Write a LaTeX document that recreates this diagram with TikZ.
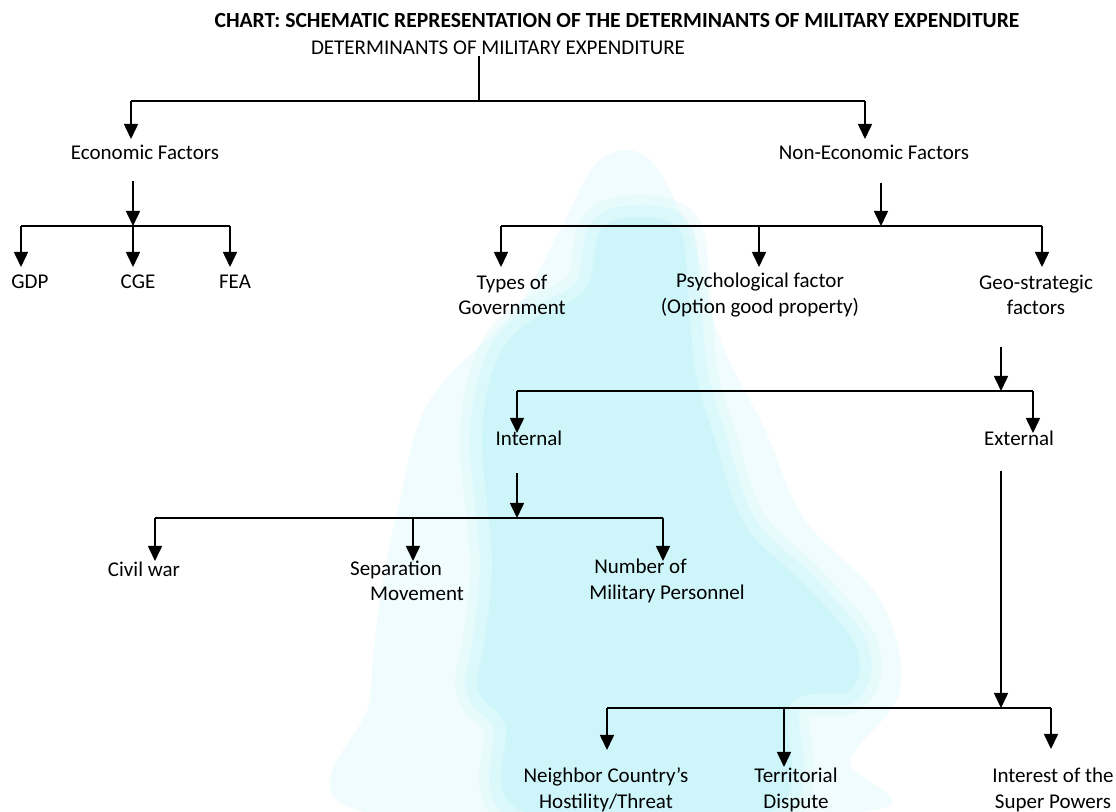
\documentclass[tikz,border=0pt]{standalone}
\usepackage{fontspec}
\setmainfont{Carlito}
\usetikzlibrary{arrows.meta}
\definecolor{wmA}{RGB}{240,252,253}
\definecolor{wmB}{RGB}{206,246,250}
\begin{document}
\begin{tikzpicture}[x=0.5pt,y=-0.5pt,
  lbl/.style={inner sep=0pt, font=\fontsize{10.5pt}{12.8pt}\selectfont, align=center},
  ln/.style={line width=0.8pt},
  arr/.style={line width=0.8pt,-{Triangle[width=7pt,length=7.5pt]}},
  wmsoft/.style={draw=wmB, line join=round}]
\useasboundingbox (0,0) rectangle (1116,812);
\fill[white] (0,0) rectangle (1116,812);
% faint watermark
\fill[wmA] plot[smooth cycle, tension=0.6] coordinates {(600,160) (650,160) (695,250) (720,340) (765,430) (805,520) (880,600) (900,690) (850,760) (860,812) (365,812) (370,700) (380,600) (400,500) (430,400) (515,310) (560,230)};
\def\wmshape{plot[smooth cycle, tension=0.6] coordinates {(605,225) (675,225) (688,290) (695,370) (715,440) (745,525) (805,585) (855,645) (850,690) (790,705) (770,812) (525,812) (505,725) (478,690) (485,640) (492,560) (482,440) (495,365) (525,325) (585,290)}}
\draw[wmsoft, line width=22pt, opacity=0.25] \wmshape;
\draw[wmsoft, line width=12pt, opacity=0.45] \wmshape;
\fill[wmB] \wmshape;
% texts
\node[lbl,font=\fontsize{10.8pt}{13pt}\selectfont\bfseries] (title) at (617,21) {CHART: SCHEMATIC REPRESENTATION OF THE DETERMINANTS OF MILITARY EXPENDITURE};
\node[lbl] (root) at (498,48) {DETERMINANTS OF MILITARY EXPENDITURE};
\node[lbl] (econ) at (145,152) {Economic Factors};
\node[lbl] (nonecon) at (874,152) {Non-Economic Factors};
\node[lbl] (gdp) at (30,282) {GDP};
\node[lbl] (cge) at (138,282) {CGE};
\node[lbl] (fea) at (235,282) {FEA};
\node[lbl] (types) at (512,295) {Types of\\Government};
\node[lbl] (psych) at (760,295) {Psychological factor\\(Option good property)};
\node[lbl] (geo) at (1036,295) {Geo-strategic\\factors};
\node[lbl] (internal) at (529,438) {Internal};
\node[lbl] (external) at (1019,438) {External};
\node[lbl] (civil) at (144,569) {Civil war};
\node[lbl,align=left] (sep) at (407,581) {Separation\\\hspace*{10pt}Movement};
\node[lbl,align=left] (num) at (667,581) {\hspace*{2.5pt}Number of\\Military Personnel};
\node[lbl] (neigh) at (606,790) {Neighbor Country’s\\Hostility/Threat};
\node[lbl] (terr) at (796,790) {Territorial\\Dispute};
\node[lbl] (inter) at (1053,790) {Interest of the\\Super Powers};
% connector coordinates
\coordinate (rS) at (479,56);  \coordinate (rJ) at (479,101);
\coordinate (rL) at (131,101); \coordinate (rR) at (865,101);
\coordinate (econA) at (131,139); \coordinate (noneconA) at (865,139);
\coordinate (eS) at (133,181); \coordinate (eJ) at (133,226);
\coordinate (eL) at (21,226);  \coordinate (eR) at (230,226);
\coordinate (gdpA) at (21,267); \coordinate (cgeA) at (133,267); \coordinate (feaA) at (230,267);
\coordinate (nS) at (881,183); \coordinate (nJ) at (881,226);
\coordinate (nL) at (501,226); \coordinate (nM) at (759,226); \coordinate (nR) at (1042,226);
\coordinate (typesA) at (501,267); \coordinate (psychA) at (759,267); \coordinate (geoA) at (1042,267);
\coordinate (gS) at (1001,347); \coordinate (gJ) at (1001,391);
\coordinate (gL) at (517,391); \coordinate (gR) at (1033,391);
\coordinate (internalA) at (517,433); \coordinate (externalA) at (1033,433);
\coordinate (iS) at (517,473); \coordinate (iJ) at (517,518);
\coordinate (iL) at (155,518); \coordinate (iM) at (413,518); \coordinate (iR) at (663,518);
\coordinate (civilA) at (155,561); \coordinate (sepA) at (413,561); \coordinate (numA) at (663,561);
\coordinate (xS) at (1001,471); \coordinate (xJ) at (1001,708);
\coordinate (xL) at (607,708); \coordinate (xM) at (784,708); \coordinate (xR) at (1051,708);
\coordinate (neighA) at (607,750); \coordinate (terrA) at (784,767); \coordinate (interA) at (1051,749);
% connectors
\draw[ln] (rS) -- (rJ);
\draw[ln] (rL) -- (rR);
\draw[arr] (rL) -- (econA);
\draw[arr] (rR) -- (noneconA);
\draw[arr] (eS) -- (eJ);
\draw[ln] (eL) -- (eR);
\draw[arr] (eL) -- (gdpA);
\draw[arr] (eJ) -- (cgeA);
\draw[arr] (eR) -- (feaA);
\draw[arr] (nS) -- (nJ);
\draw[ln] (nL) -- (nR);
\draw[arr] (nL) -- (typesA);
\draw[arr] (nM) -- (psychA);
\draw[arr] (nR) -- (geoA);
\draw[arr] (gS) -- (gJ);
\draw[ln] (gL) -- (gR);
\draw[arr] (gL) -- (internalA);
\draw[arr] (gR) -- (externalA);
\draw[arr] (iS) -- (iJ);
\draw[ln] (iL) -- (iR);
\draw[arr] (iL) -- (civilA);
\draw[arr] (iM) -- (sepA);
\draw[arr] (iR) -- (numA);
\draw[arr] (xS) -- (xJ);
\draw[ln] (xL) -- (xR);
\draw[arr] (xL) -- (neighA);
\draw[arr] (xM) -- (terrA);
\draw[arr] (xR) -- (interA);
\end{tikzpicture}
\end{document}
